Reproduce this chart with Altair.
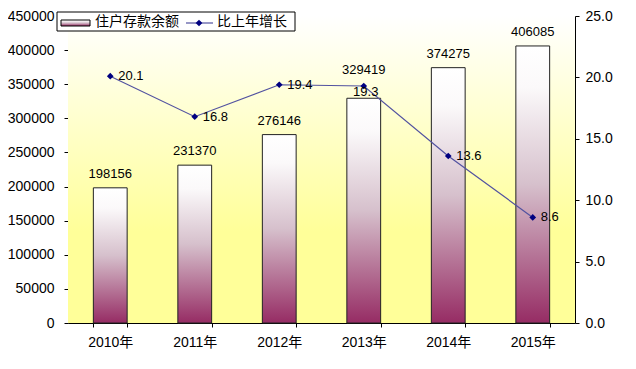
import altair as alt
import pandas as pd

years = ["2010年", "2011年", "2012年", "2013年", "2014年", "2015年"]
deposits = [198156, 231370, 276146, 329419, 374275, 406085]
growth = [20.1, 16.8, 19.4, 19.3, 13.6, 8.6]
bar_name = "住户存款余额"
line_name = "比上年增长"

df = pd.DataFrame({"year": years, "deposit": deposits, "growth": growth})
one = pd.DataFrame({"k": [0]})

FONT = "Liberation Sans, Arial, 'Noto Sans CJK SC', sans-serif"
W, H = 507, 307

bg_grad = {"gradient": "linear", "x1": 0, "y1": 0, "x2": 0, "y2": 1,
           "stops": [{"offset": 0, "color": "#FFFFFF"},
                     {"offset": 0.7, "color": "#FFFF99"},
                     {"offset": 1, "color": "#FFFF99"}]}
bar_grad = {"gradient": "linear", "x1": 0, "y1": 0, "x2": 0, "y2": 1,
            "stops": [{"offset": 0, "color": "#FFFFFF"},
                      {"offset": 0.15, "color": "#FBF9FA"},
                      {"offset": 0.5, "color": "#D6C0CC"},
                      {"offset": 1, "color": "#962C64"}]}

x_enc = alt.X("year:N", sort=years, title=None,
              scale=alt.Scale(paddingInner=0.6, paddingOuter=0.3),
              axis=alt.Axis(labelAngle=0, tickBand="extent", tickSize=4,
                            labelPadding=8, domainColor="#000000",
                            tickColor="#000000", labelFontSize=14,
                            labelColor="#000000"))

bg = alt.Chart(one).mark_rect(fill=bg_grad).encode(
    x=alt.value(0), x2=alt.value(W), y=alt.value(0), y2=alt.value(H))

y_left = alt.Y("deposit:Q", title=None,
               scale=alt.Scale(domain=[0, 450000], nice=False),
               axis=alt.Axis(orient="left", values=list(range(0, 450001, 50000)),
                             format="d", grid=False, tickSize=4, labelPadding=10,
                             domainColor="#000000", tickColor="#000000",
                             labelFontSize=14, labelColor="#000000"))

bars = alt.Chart(df).mark_bar(fill=bar_grad, stroke="#222222", strokeWidth=1).encode(
    x=x_enc, y=y_left)
bar_text = alt.Chart(df).transform_filter(alt.datum.year != "2013年").mark_text(
    baseline="bottom", dy=-7, fontSize=13, font=FONT, color="#000000").encode(
    x=x_enc, y=y_left, text=alt.Text("deposit:Q", format="d"))
bar_text_2013 = alt.Chart(df).transform_filter(alt.datum.year == "2013年").mark_text(
    baseline="bottom", dy=-21, fontSize=13, font=FONT, color="#000000").encode(
    x=x_enc, y=y_left, text=alt.Text("deposit:Q", format="d"))
bar_group = alt.layer(bars, bar_text, bar_text_2013)

y_right = alt.Y("growth:Q", title=None,
                scale=alt.Scale(domain=[0, 25], nice=False),
                axis=alt.Axis(orient="right", values=[0, 5, 10, 15, 20, 25],
                              format=".1f", grid=False, tickSize=4,
                              labelPadding=6, domainColor="#000000",
                              tickColor="#000000", labelFontSize=14,
                              labelColor="#000000"))

line = alt.Chart(df).mark_line(color="#5252A0", strokeWidth=1.2).encode(
    x=x_enc, y=y_right)
pts = alt.Chart(df).mark_point(shape="diamond", filled=True, color="#000080",
                               size=45, opacity=1).encode(x=x_enc, y=y_right)
lab_main = alt.Chart(df).transform_filter(alt.datum.year != "2013年").mark_text(
    align="left", baseline="middle", dx=8, fontSize=13, font=FONT,
    color="#000000").encode(x=x_enc, y=y_right, text=alt.Text("growth:Q", format=".1f"))
lab_2013 = alt.Chart(df).transform_filter(alt.datum.year == "2013年").mark_text(
    align="center", baseline="middle", dx=2, dy=6, fontSize=13, font=FONT,
    color="#000000").encode(x=x_enc, y=y_right, text=alt.Text("growth:Q", format=".1f"))
line_group = alt.layer(line, pts, lab_main, lab_2013)

leg_box = alt.Chart(one).mark_rect(fill="#FFFFFF", stroke="#000000", strokeWidth=1).encode(
    x=alt.value(-11), x2=alt.value(227), y=alt.value(-4), y2=alt.value(15))
leg_sw = alt.Chart(one).mark_rect(fill=bar_grad, stroke="#000000", strokeWidth=1).encode(
    x=alt.value(-7), x2=alt.value(22), y=alt.value(4), y2=alt.value(10))
leg_t1 = alt.Chart(one).mark_text(align="left", baseline="middle", fontSize=14,
                                  font=FONT, color="#000000", text=bar_name).encode(
    x=alt.value(27), y=alt.value(6))
leg_ln = alt.Chart(one).mark_rule(color="#5252A0", strokeWidth=1.2).encode(
    x=alt.value(118), x2=alt.value(145), y=alt.value(7))
leg_pt = alt.Chart(one).mark_point(shape="diamond", filled=True, color="#000080",
                                   size=45, opacity=1).encode(
    x=alt.value(131), y=alt.value(7))
leg_t2 = alt.Chart(one).mark_text(align="left", baseline="middle", fontSize=14,
                                  font=FONT, color="#000000", text=line_name).encode(
    x=alt.value(149), y=alt.value(6))
legend = alt.layer(leg_box, leg_sw, leg_t1, leg_ln, leg_pt, leg_t2)

chart = alt.layer(bg, bar_group, line_group, legend).resolve_scale(
    y="independent"
).properties(
    width=W, height=H,
    autosize=alt.AutoSizeParams(type="none"),
    padding={"left": 60, "top": 8, "right": 45, "bottom": 30},
    background="#FFFFFF",
).configure_view(stroke=None).configure_axis(labelFont=FONT)

chart.save("out.html", embed_options={"renderer": "svg", "actions": False})
